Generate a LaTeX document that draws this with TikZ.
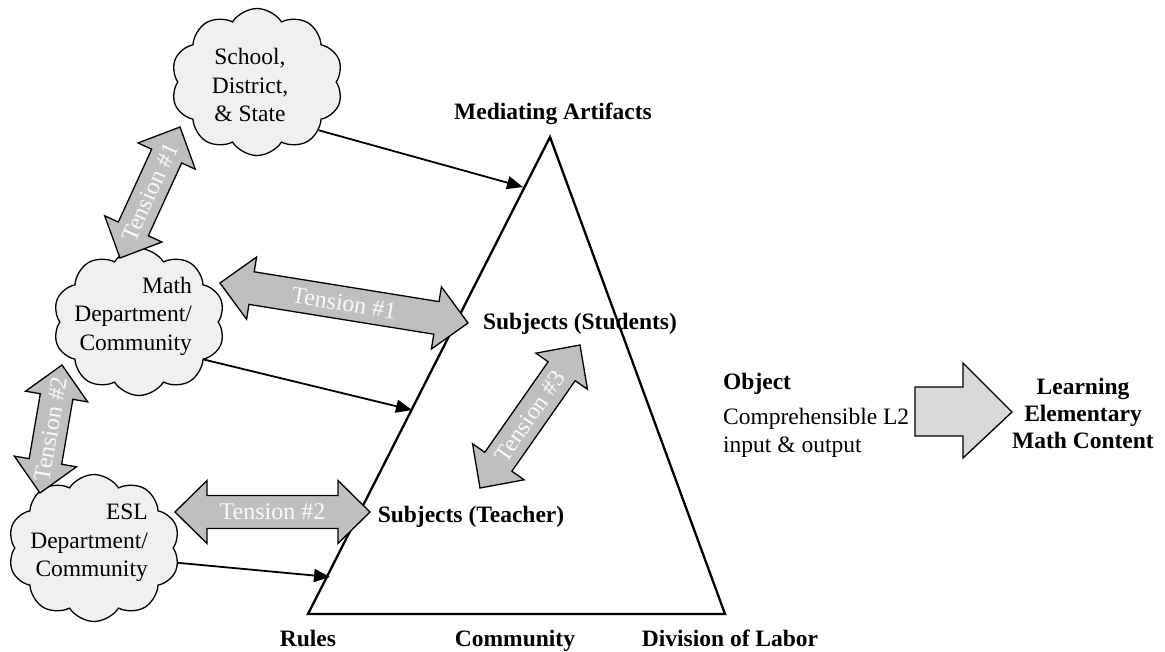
\documentclass[tikz,border=0pt]{standalone}
\usepackage{fontspec}
\setmainfont{Liberation Serif}
\usetikzlibrary{shapes.symbols,arrows.meta,calc}

\definecolor{cloudfill}{HTML}{F0F0F0}
\definecolor{tensionfill}{HTML}{BFBFBF}
\definecolor{bigarrowfill}{HTML}{D9D9D9}
\definecolor{labelwhite}{HTML}{F9F9F9}

\tikzset{
  txt/.style={inner sep=0pt, font=\fontsize{23.5}{28.5}\selectfont},
  boldtxt/.style={txt, font=\fontsize{23.5}{27}\selectfont\bfseries},
  cloudbox/.style={cloud, cloud puffs=10, cloud puff arc=115, aspect=1.2,
    draw, line width=1.3pt, fill=cloudfill, inner sep=0pt,
    minimum width=172pt, minimum height=147pt},
  tensionbody/.style={draw, line width=1.3pt, fill=tensionfill, line join=miter},
  tensionlabel/.style={inner sep=0pt, text=labelwhite, font=\fontsize{24}{26}\selectfont},
  feed/.style={line width=1.8pt, -{Triangle[length=16pt, width=13pt]}},
  frame/.style={line width=2.3pt, line join=miter},
  bigarrow/.style={draw, line width=1.3pt, fill=bigarrowfill, line join=miter}
}

% block double arrow between two points, with its label along the shaft
\newcommand\tensionarrow[4]{%
  \draw[tensionbody] let \p1=(#1), \p2=(#2), \n1={atan2(\y2-\y1,\x2-\x1)} in
    (\p1) -- ($(\p1)+(\n1:32pt)+(\n1+90:31.5pt)$)
    -- ($(\p1)+(\n1:32pt)+(\n1+90:16.5pt)$)
    -- ($(\p2)+(\n1+180:32pt)+(\n1+90:16.5pt)$)
    -- ($(\p2)+(\n1+180:32pt)+(\n1+90:31.5pt)$)
    -- (\p2)
    -- ($(\p2)+(\n1+180:32pt)+(\n1-90:31.5pt)$)
    -- ($(\p2)+(\n1+180:32pt)+(\n1-90:16.5pt)$)
    -- ($(\p1)+(\n1:32pt)+(\n1-90:16.5pt)$)
    -- ($(\p1)+(\n1:32pt)+(\n1-90:31.5pt)$) -- cycle
    ($(\p1)!0.5!(\p2)$) node[tensionlabel, rotate=\n1] (#4) {#3};%
}

\begin{document}
\begin{tikzpicture}[x=1pt, y=-1pt]
\useasboundingbox (0,0) rectangle (1165,651);

% activity triangle
\coordinate (apex) at (550,137);
\coordinate (bl) at (308,614);
\coordinate (br) at (725,614);
\draw[frame] (apex) -- (bl) -- (br) -- cycle;

% corner and inner labels
\node[boldtxt, anchor=base] (mediating) at (553,119) {Mediating Artifacts};
\node[boldtxt, anchor=base] (rules) at (308,646) {Rules};
\node[boldtxt, anchor=base] (community) at (515,646) {Community};
\node[boldtxt, anchor=base] (division) at (730,646) {Division of Labor};
\node[boldtxt, anchor=base] (students) at (580,329) {Subjects (Students)};
\node[boldtxt, anchor=base] (teacher) at (471,522) {Subjects (Teacher)};

% object and outcome
\node[boldtxt, anchor=base west] (object) at (723,389) {Object};
\node[txt, anchor=west, align=left] (objtext) at (723,433) {Comprehensible L2\\input \& output};
\node[boldtxt, align=center] (outcome) at (1083,413) {Learning\\Elementary\\Math Content};
\coordinate (ba1) at (915,387);
\coordinate (ba2) at (963,387);
\coordinate (ba3) at (963,363);
\coordinate (ba4) at (1012,412);
\coordinate (ba5) at (963,458);
\coordinate (ba6) at (963,436);
\coordinate (ba7) at (915,436);
\draw[bigarrow] (ba1) -- (ba2) -- (ba3) -- (ba4) -- (ba5) -- (ba6) -- (ba7) -- cycle;

% surrounding communities
\node[cloudbox] (school) at (257,82) {};
\node[txt, align=center] (schooltext) at (250,85) {School,\\District,\\\& State};
\node[cloudbox] (math) at (139,322) {};
\node[txt, align=right, anchor=east] (mathtext) at (192,316) {Math\\Department/\\Community};
\node[cloudbox] (esl) at (94,548) {};
\node[txt, align=right, anchor=east] (esltext) at (148,543) {ESL\\Department/\\Community};

% influences on the activity system
\coordinate (inMA) at (523,187);
\coordinate (inM) at (412,410);
\coordinate (inE) at (330,577);
\draw[feed] (school.-38) -- (inMA);
\draw[feed] (math.-30) -- (inM);
\draw[feed] (esl.-10) -- (inE);

% tensions
\coordinate (t1a) at (120,258);
\coordinate (t1b) at (180,127);
\coordinate (t1c) at (220,283);
\coordinate (t1d) at (468,323);
\coordinate (t2a) at (40,493);
\coordinate (t2b) at (62,365);
\coordinate (t2c) at (175,512);
\coordinate (t2d) at (370,512);
\coordinate (t3a) at (480,488);
\coordinate (t3b) at (580,345);
\tensionarrow{t1a}{t1b}{Tension \#1}{tensionA}
\tensionarrow{t1c}{t1d}{Tension \#1}{tensionB}
\tensionarrow{t2a}{t2b}{Tension \#2}{tensionC}
\tensionarrow{t2c}{t2d}{Tension \#2}{tensionD}
\tensionarrow{t3a}{t3b}{Tension \#3}{tensionE}
\end{tikzpicture}
\end{document}
